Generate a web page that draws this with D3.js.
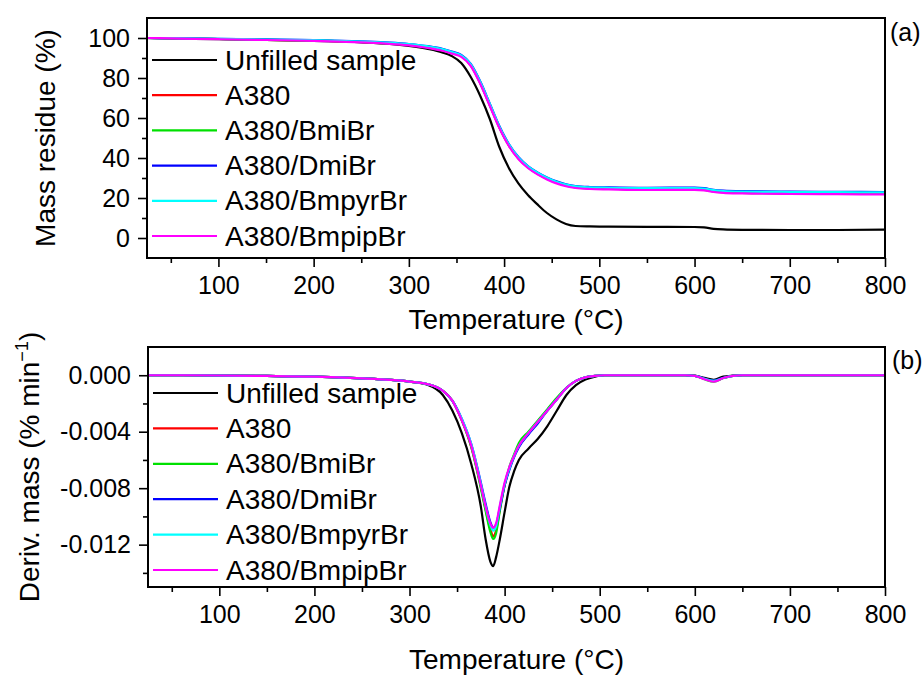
<!DOCTYPE html>
<html>
<head>
<meta charset="utf-8">
<script src="https://cdn.jsdelivr.net/npm/d3@7"></script>
<style>
  html, body { margin: 0; padding: 0; background: #fff; }
  svg { display: block; font-family: "Liberation Sans", Arial, sans-serif; }
</style>
</head>
<body>
<svg id="chart" width="924" height="677"></svg>
<script>
// ---------- DATA ----------
const seriesNames = ["Unfilled sample", "A380", "A380/BmiBr", "A380/DmiBr", "A380/BmpyrBr", "A380/BmpipBr"];
const seriesColors = ["#000000", "#ff0000", "#00e000", "#0000ff", "#00ffff", "#ff00ff"];

// (a) TGA: mass residue (%)
const tgaTemps = [25, 50, 100, 150, 200, 250, 280, 300, 320, 335, 345, 355, 365, 375, 385, 395, 405, 415, 425, 435, 445, 455, 465, 475, 490, 510, 550, 600, 610, 620, 630, 650, 700, 750, 800];
const tgaUnfilled = [100, 99.8, 99.4, 99.0, 98.5, 97.8, 97.0, 96.0, 94.5, 92.8, 91.0, 87.5, 80.5, 71, 59.5, 45.5, 35, 27.3, 21.5, 16.8, 12.5, 9.3, 7.0, 6.0, 5.8, 5.7, 5.6, 5.5, 5.3, 4.6, 4.3, 4.1, 4.0, 4.0, 4.2];
const tgaA380 = [100, 99.8, 99.5, 99.1, 98.7, 98.0, 97.3, 96.6, 95.4, 94.0, 92.6, 91.0, 86.4, 77.5, 66.5, 55.4, 46.4, 39.9, 35.4, 32.2, 29.7, 27.7, 26.3, 25.4, 24.9, 24.7, 24.4, 24.5, 24.2, 23.4, 23.0, 22.7, 22.4, 22.3, 22.2];
const tgaBmiBr = [100, 99.8, 99.5, 99.1, 98.7, 98.0, 97.3, 96.5, 95.3, 93.9, 92.5, 90.9, 86.3, 77.4, 66.4, 55.3, 46.3, 39.8, 35.3, 32.1, 29.6, 27.6, 26.2, 25.3, 24.8, 24.6, 24.3, 24.4, 24.1, 23.3, 22.9, 22.6, 22.3, 22.2, 22.1];
const tgaDmiBr = [100, 99.9, 99.6, 99.3, 99.0, 98.3, 97.7, 97.0, 95.9, 94.6, 93.2, 91.5, 87.0, 78.2, 67.2, 56.0, 47.0, 40.5, 36.0, 32.8, 30.3, 28.3, 26.9, 26.0, 25.5, 25.3, 25.1, 25.2, 24.9, 24.1, 23.7, 23.4, 23.2, 23.1, 23.0];
const tgaBmpyrBr = [100, 99.9, 99.6, 99.2, 98.9, 98.2, 97.6, 96.9, 95.8, 94.5, 93.0, 91.3, 86.8, 78.0, 67.0, 55.8, 46.8, 40.3, 35.8, 32.6, 30.1, 28.1, 26.7, 25.8, 25.3, 25.1, 24.9, 25.0, 24.7, 23.9, 23.5, 23.2, 23.0, 22.9, 22.8];
const tgaBmpipBr = [100, 99.8, 99.4, 99.0, 98.6, 97.8, 97.1, 96.3, 95.0, 93.6, 92.2, 90.6, 86.0, 77.0, 66.0, 55.0, 46.0, 39.5, 35.0, 31.8, 29.3, 27.3, 25.9, 25.0, 24.5, 24.3, 24.0, 24.1, 23.8, 23.0, 22.6, 22.3, 22.0, 21.9, 21.8];

// (b) DTG: deriv. mass (% min^-1)
const dtgTemps = [25, 50, 100, 150, 200, 250, 280, 300, 320, 335, 345, 355, 365, 375, 380, 385, 388, 391, 395, 400, 405, 410, 415, 425, 435, 445, 455, 465, 475, 485, 495, 505, 550, 590, 600, 610, 620, 630, 640, 650, 700, 750, 800];
const dtgUnfilled = [0, 0, -0.00002, -0.00005, -0.0001, -0.00022, -0.00033, -0.00045, -0.0007, -0.0014, -0.0025, -0.0041, -0.0063, -0.0093, -0.0116, -0.0132, -0.01352, -0.0129, -0.0116, -0.0097, -0.0079, -0.0068, -0.0060, -0.0052, -0.0045, -0.0036, -0.0025, -0.0014, -0.0007, -0.0003, -0.0001, 0, 0, 0, -0.00003, -0.00018, -0.00032, -0.0001, -0.00003, 0, 0, 0, 0];
const dtgA380 = [0, 0, -0.00002, -0.00005, -0.0001, -0.00022, -0.00033, -0.00045, -0.00065, -0.0011, -0.0018, -0.0032, -0.0051, -0.0079, -0.0095, -0.0109, -0.0114, -0.0110, -0.0095, -0.0078, -0.0066, -0.0057, -0.0050, -0.0041, -0.0033, -0.0025, -0.0017, -0.0009, -0.0004, -0.00015, -0.00005, 0, 0, 0, -0.00005, -0.00025, -0.0004, -0.0002, -0.00005, 0, 0, 0, 0];
const dtgBmiBr = [0, 0, -0.00002, -0.00005, -0.0001, -0.00022, -0.00033, -0.00045, -0.00065, -0.0011, -0.0018, -0.0032, -0.0051, -0.0080, -0.0096, -0.0111, -0.0116, -0.0112, -0.0096, -0.0078, -0.0065, -0.0056, -0.0048, -0.0040, -0.0032, -0.0024, -0.0016, -0.0009, -0.0004, -0.00015, -0.00005, 0, 0, 0, -0.00005, -0.00028, -0.00046, -0.0002, -0.00005, 0, 0, 0, 0];
const dtgDmiBr = [0, 0, -0.00002, -0.00005, -0.0001, -0.00022, -0.00033, -0.00045, -0.00065, -0.0011, -0.0018, -0.0031, -0.0049, -0.0076, -0.0091, -0.0104, -0.0108, -0.0106, -0.0094, -0.0078, -0.0067, -0.0058, -0.0051, -0.0042, -0.0034, -0.0025, -0.0017, -0.0009, -0.0004, -0.00015, -0.00005, 0, 0, 0, -0.00004, -0.00024, -0.00038, -0.00018, -0.00004, 0, 0, 0, 0];
const dtgBmpyrBr = [0, 0, -0.00002, -0.00005, -0.0001, -0.00022, -0.00033, -0.00045, -0.00065, -0.0011, -0.0018, -0.0031, -0.0049, -0.0077, -0.0093, -0.0106, -0.0110, -0.0107, -0.0093, -0.0077, -0.0066, -0.0057, -0.0050, -0.0041, -0.0033, -0.0025, -0.0017, -0.0009, -0.0004, -0.00015, -0.00005, 0, 0, 0, -0.00005, -0.00025, -0.0004, -0.0002, -0.00005, 0, 0, 0, 0];
const dtgBmpipBr = [0, 0, -0.00002, -0.00005, -0.0001, -0.00022, -0.00033, -0.00045, -0.00065, -0.0011, -0.0018, -0.0032, -0.0050, -0.0078, -0.0093, -0.0105, -0.0108, -0.0105, -0.0092, -0.0076, -0.0065, -0.0057, -0.0050, -0.0041, -0.0033, -0.0025, -0.0017, -0.0009, -0.0004, -0.00015, -0.00005, 0, 0, 0, -0.00005, -0.00028, -0.00045, -0.0002, -0.00005, 0, 0, 0, 0];

// ticks
const xMajorTicks = [100, 200, 300, 400, 500, 600, 700, 800];
const xMinorTicks = [50, 150, 250, 350, 450, 550, 650, 750];
const tgaMajorTicks = [0, 20, 40, 60, 80, 100];
const tgaMinorTicks = [10, 30, 50, 70, 90];
const dtgMajorTicks = [0, -0.004, -0.008, -0.012];
const dtgMinorTicks = [-0.002, -0.006, -0.010, -0.014];

const tgaSeries = [tgaUnfilled, tgaA380, tgaBmiBr, tgaDmiBr, tgaBmpyrBr, tgaBmpipBr];
const dtgSeries = [dtgUnfilled, dtgA380, dtgBmiBr, dtgDmiBr, dtgBmpyrBr, dtgBmpipBr];

// ---------- DRAW ----------
const svg = d3.select("#chart");
svg.append("rect").attr("width", 924).attr("height", 677).attr("fill", "#fff");

const FONT_TICK = 25, FONT_TITLE = 28, FONT_LEG = 28;

function panel(opts) {
  const { left, right, top, bottom, xDomain, yDomain, temps, series, yMajor, yMinor, yFmt,
          panelLabel, labelPos, xTitleY, yTitle, yTitleX, legendY0, legendStep, legendX } = opts;
  const x = d3.scaleLinear().domain(xDomain).range([left, right]);
  const y = d3.scaleLinear().domain(yDomain).range([bottom, top]);
  const g = svg.append("g");

  const clipId = "clip" + Math.round(top);
  svg.append("clipPath").attr("id", clipId)
    .append("rect").attr("x", left).attr("y", top).attr("width", right - left).attr("height", bottom - top);

  // lines
  const line = d3.line().x(d => x(d[0])).y(d => y(d[1])).curve(d3.curveMonotoneX);
  series.forEach((vals, i) => {
    g.append("path")
      .attr("clip-path", `url(#${clipId})`)
      .attr("d", line(temps.map((t, j) => [t, vals[j]])))
      .attr("fill", "none")
      .attr("stroke", seriesColors[i])
      .attr("stroke-width", 2.2)
      .attr("stroke-linejoin", "round");
  });

  // x axis
  const xAxis = d3.axisBottom(x).tickValues(xMajorTicks).tickSize(9).tickSizeOuter(0).tickPadding(9)
    .tickFormat(d3.format("d"));
  const gx = g.append("g").attr("transform", `translate(0,${bottom})`).call(xAxis);
  const xMinor = d3.axisBottom(x).tickValues(xMinorTicks).tickSize(5).tickSizeOuter(0).tickFormat("");
  const gxm = g.append("g").attr("transform", `translate(0,${bottom})`).call(xMinor);

  // y axis
  const yAxis = d3.axisLeft(y).tickValues(yMajor).tickSize(9).tickSizeOuter(0).tickPadding(8).tickFormat(yFmt);
  const gy = g.append("g").attr("transform", `translate(${left},0)`).call(yAxis);
  const yMinorAx = d3.axisLeft(y).tickValues(yMinor).tickSize(5).tickSizeOuter(0).tickFormat("");
  const gym = g.append("g").attr("transform", `translate(${left},0)`).call(yMinorAx);

  [gx, gxm, gy, gym].forEach(a => {
    a.select(".domain").remove();
    a.selectAll(".tick line").attr("stroke", "#000").attr("stroke-width", 1.6);
    a.selectAll(".tick text").attr("font-size", FONT_TICK).attr("fill", "#000")
      .attr("font-family", "'Liberation Sans', Arial, sans-serif");
  });

  // frame
  g.append("rect").attr("x", left).attr("y", top).attr("width", right - left).attr("height", bottom - top)
    .attr("fill", "none").attr("stroke", "#000").attr("stroke-width", 2);

  // titles
  g.append("text").attr("x", (left + right) / 2).attr("y", xTitleY).attr("text-anchor", "middle")
    .attr("font-size", FONT_TITLE).text("Temperature (°C)");
  yTitle(g.append("text").attr("transform", `translate(${yTitleX},${(top + bottom) / 2}) rotate(-90)`)
    .attr("text-anchor", "middle").attr("font-size", FONT_TITLE));

  g.append("text").attr("x", labelPos[0]).attr("y", labelPos[1]).attr("font-size", 25).text(panelLabel);

  // legend
  seriesNames.forEach((name, i) => {
    const ly = legendY0 + i * legendStep;
    g.append("line").attr("x1", legendX).attr("x2", legendX + 65).attr("y1", ly).attr("y2", ly)
      .attr("stroke", seriesColors[i]).attr("stroke-width", 2.2);
    g.append("text").attr("x", legendX + 73).attr("y", ly + 9.5).attr("font-size", FONT_LEG).text(name);
  });
}

panel({
  left: 147, right: 885, top: 18, bottom: 258,
  xDomain: [25, 800], yDomain: [-10, 110],
  temps: tgaTemps, series: tgaSeries,
  yMajor: tgaMajorTicks, yMinor: tgaMinorTicks, yFmt: d3.format("d"),
  panelLabel: "(a)", labelPos: [890, 41],
  xTitleY: 329,
  yTitle: t => t.text("Mass residue (%)"), yTitleX: 55,
  legendY0: 60, legendStep: 35.2, legendX: 152
});

panel({
  left: 148, right: 885, top: 347, bottom: 587,
  xDomain: [25, 800], yDomain: [-0.015, 0.002],
  temps: dtgTemps, series: dtgSeries,
  yMajor: dtgMajorTicks, yMinor: dtgMinorTicks,
  yFmt: d => d3.format(".3f")(d).replace("\u2212", "-"),
  panelLabel: "(b)", labelPos: [892, 369],
  xTitleY: 669,
  yTitle: t => {
    t.append("tspan").text("Deriv. mass (% min");
    t.append("tspan").attr("dy", -11).attr("font-size", 18).text("\u22121");
    t.append("tspan").attr("dy", 11).text(")");
  },
  yTitleX: 38.5,
  legendY0: 393, legendStep: 35.4, legendX: 153
});
</script>
</body>
</html>
